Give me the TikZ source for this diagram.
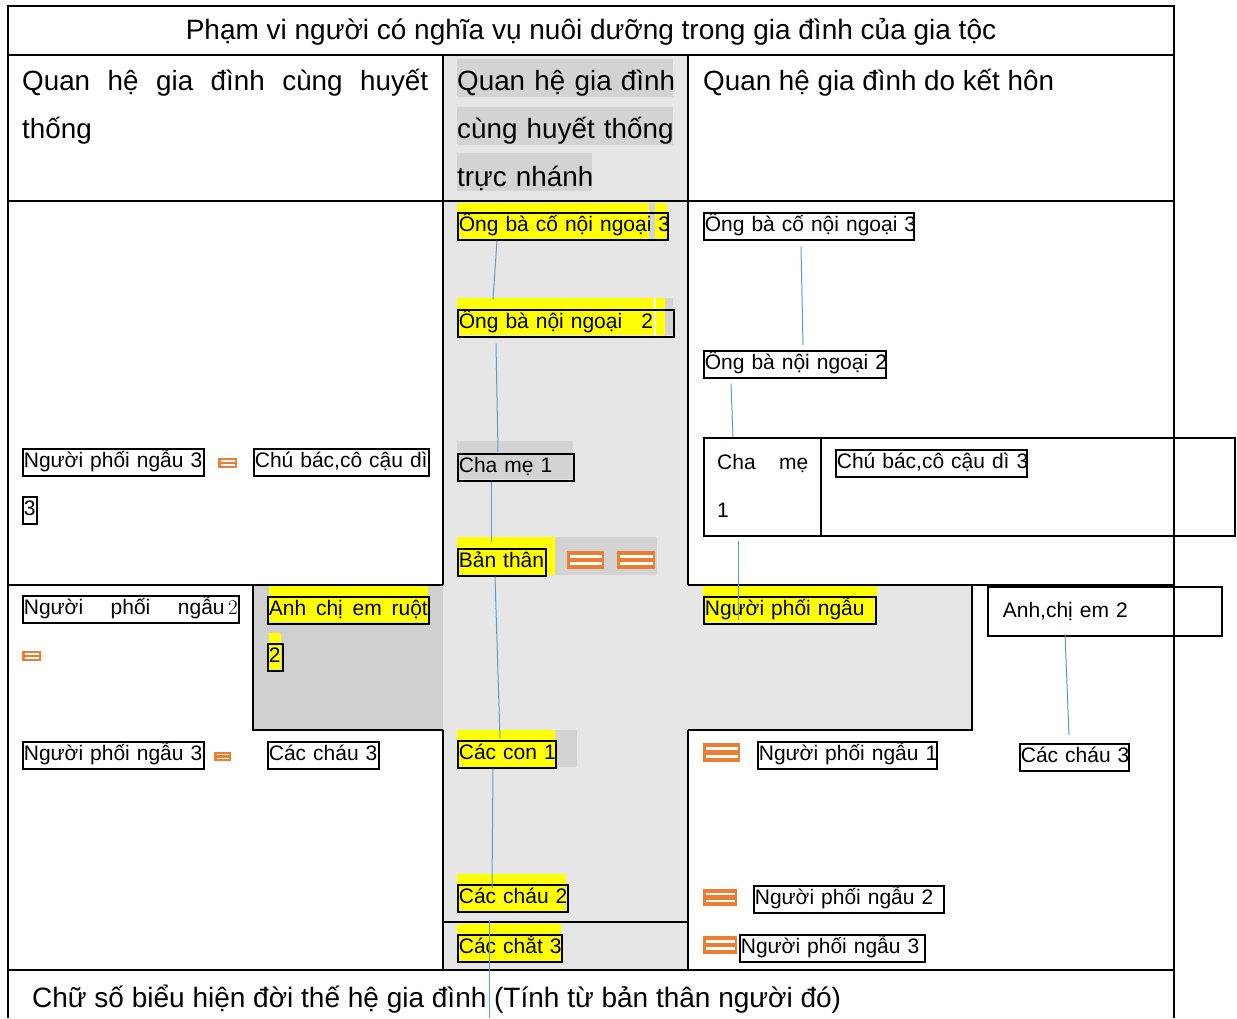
\documentclass[tikz,border=0pt]{standalone}
\usepackage{fontspec}
\setmainfont{Liberation Sans}
\newfontfamily\lmfont{Latin Modern Roman}
\usetikzlibrary{calc}
\definecolor{colgray}{HTML}{E6E6E6}
\definecolor{crossgray}{HTML}{D1D0D1}
\definecolor{hlgray}{HTML}{D3D3D3}
\definecolor{hlyel}{HTML}{FFFF00}
\definecolor{connblue}{HTML}{5B9BD5}
\definecolor{eqorange}{HTML}{ED7D31}
\newcommand\lblfont{\fontsize{21}{25}\selectfont}
\newcommand\hdrfont{\fontsize{27.8}{48}\selectfont}
\newcommand\ttlfont{\fontsize{28}{32}\selectfont}
\newcommand\eqsym[5]{%
  \fill[eqorange] (#1,#2) rectangle ++(#3,#4);
  \draw[white, line width=#5pt] ({#1+2.5},{#2+#4*0.3}) -- ++({#3-5},0);
  \draw[white, line width=#5pt] ({#1+2.5},{#2+#4*0.7}) -- ++({#3-5},0);
}
\tikzset{
  frame/.style={line width=2.4pt, draw=black},
  tb/.style={draw=black, line width=1.7pt, anchor=north west, inner xsep=1pt,
    inner ysep=0pt, minimum height=27pt, text width=#1, align=left,
    font=\lblfont, text height=15.5pt, text depth=4.5pt,
    execute at begin node={\hbox to\linewidth\bgroup},
    execute at end node={\hfil\egroup}},
  conn/.style={draw=connblue, line width=1pt},
  hdr/.style={font=\hdrfont, anchor=base west, inner sep=0pt, align=left},
}
\begin{document}
\begin{tikzpicture}[x=1pt, y=-1pt]
\useasboundingbox (0,0) rectangle (1237,1018);
\fill[white] (0,0) rectangle (1237,1018);
% shaded regions
\fill[colgray] (443,55) rectangle (688,970);
\fill[colgray] (443,585) rectangle (972,730);
\fill[crossgray] (253,585) rectangle (443,730);
% header highlights
\fill[hlgray] (457,59) rectangle (673,97);
\fill[hlgray] (457,107) rectangle (673,145);
\fill[hlgray] (457,153) rectangle (592,191);
% text highlights
\fill[hlyel] (457,203) rectangle (667,239);
\fill[hlgray] (649,203) rectangle (655,239);
\fill[hlyel] (457,298) rectangle (665,335);
\fill[white] (654,298) rectangle (656,335);
\fill[hlgray] (665,298) rectangle (673,335);
\fill[hlgray] (457,441) rectangle (573,479);
\fill[hlyel] (457,537) rectangle (555,575);
\fill[hlgray] (555,537) rectangle (657,575);
\fill[hlyel] (457,730) rectangle (555,767);
\fill[hlgray] (555,730) rectangle (577,767);
\fill[hlyel] (457,874) rectangle (566,911);
\fill[hlyel] (457,924) rectangle (561,961);
\fill[hlyel] (703,585) rectangle (877,622);
\fill[hlyel] (269,585) rectangle (428,622);
\fill[hlyel] (269,633) rectangle (281,670);
% right boxes
\node[draw, line width=1.7pt, anchor=north west, minimum width=531pt, minimum height=98pt, inner sep=0pt] (rbox) at (703,437) {};
\draw[line width=1.7pt] ($(rbox.north west)+(118,0)$) -- ($(rbox.south west)+(118,0)$);
\node[draw, line width=1.7pt, anchor=north west, minimum width=234pt, minimum height=49pt, inner xsep=15pt, text width=204pt, align=left, font=\lblfont] (r6) at (987,586) {Anh,chị em 2};
% table lines
\draw[frame] (8,1018) -- (8,6) -- (1174,6) -- (1174,1018);
\draw[frame] (8,55) -- (1174,55);
\draw[frame] (8,201) -- (1174,201);
\draw[frame] (443,55) -- (443,585);
\draw[frame] (688,55) -- (688,585);
\draw[frame] (8,585) -- (443,585);
\draw[frame] (688,585) -- (1174,585);
\draw[frame] (253,585) -- (253,730) -- (443,730);
\draw[frame] (972,585) -- (972,730) -- (688,730);
\draw[frame] (443,730) -- (443,970);
\draw[frame] (688,730) -- (688,970);
\draw[frame] (443,922) -- (688,922);
\draw[frame] (8,970) -- (1174,970);
% headers
\node[font=\ttlfont, inner sep=0pt] (title) at (591,32) {Phạm vi người có nghĩa vụ nuôi dưỡng trong gia đình của gia tộc};
\node[hdr, text width=406pt] (hL) at (22,90) {Quan\hfill hệ\hfill gia\hfill đình\hfill cùng\hfill huyết\\thống};
\node[hdr, text width=235pt] (hC) at (457,90) {Quan hệ gia đình\\cùng huyết thống\\trực nhánh};
\node[hdr] (hR) at (703,90) {Quan hệ gia đình do kết hôn};
\node[font=\ttlfont, anchor=base west, inner sep=0pt] (note) at (32,1007) {Chữ số biểu hiện đời thế hệ gia đình (Tính từ bản thân người đó)};
% center column
\node[tb=208pt] (c1) at (457,212) {Ông bà cố nội ngoại 3};
\node[tb=214pt] (c2) at (457,309) {Ông bà nội ngoại\hspace{19pt}2};
\node[tb=114pt] (c3) at (457,453) {Cha mẹ 1};
\node[tb=86pt] (c4) at (457,548) {Bản thân};
\node[tb=96pt] (c5) at (457,740) {Các con 1};
\node[tb=108pt] (c6) at (457,884) {Các cháu 2};
\node[tb=102pt] (c7) at (457,934) {Các chắt 3};
% right column
\node[tb=208pt] (r1) at (703,212) {Ông bà cố nội ngoại 3};
\node[tb=180pt] (r2) at (703,350) {Ông bà nội ngoại 2};
\node[font={\fontsize{21}{48}\selectfont}, anchor=base west, inner sep=0pt, text width=91pt, align=left] (r3) at (717,469) {Cha\hfill mẹ\\1};
\node[tb=189pt] (r4) at (835,449) {Chú bác,cô cậu dì 3};
\node[tb=170pt] (r5) at (703,596) {Người phối ngẫu};
\node[tb=107pt] (r7) at (1019,743) {Các cháu 3};
\node[tb=177pt] (r8) at (757,741) {Người phối ngẫu 1};
\node[tb=188pt] (r9) at (753,885) {Người phối ngẫu 2};
\node[tb=183pt] (r10) at (739,934) {Người phối ngẫu 3};
% left column
\node[tb=179pt] (l1) at (22,448) {Người phối ngẫu 3};
\node[tb=173pt] (l2) at (253,448) {Chú bác,cô cậu dì};
\node[tb=12pt] (l3) at (22,496) {3};
\node[tb=214pt] (l4) at (22,595) {Người\hfill phối\hfill ngẫu\,{\lmfont 2}};
\node[tb=159pt] (l5) at (267,596) {Anh\hfill chị\hfill em\hfill ruột};
\node[tb=13pt] (l6) at (267,643) {2};
\node[tb=179pt] (l7) at (22,741) {Người phối ngẫu 3};
\node[tb=109pt] (l8) at (267,741) {Các cháu 3};
% spouse symbols
\eqsym{567}{551}{37}{18}{2.6}
\eqsym{617}{551}{38}{18}{2.6}
\eqsym{703}{743}{37}{19}{2.8}
\eqsym{703}{889}{34}{17}{2.5}
\eqsym{703}{936}{34}{18}{2.6}
\eqsym{218}{458}{19}{10}{1.4}
\eqsym{22}{651}{19}{10}{1.4}
\eqsym{214}{752}{17}{9}{1.3}
% connectors
\coordinate (cend) at (489,1018);
\draw[conn] ($(c1.south west)+(40,0)$) -- ($(c2.north west)+(36,-10)$);
\draw[conn] ($(c2.south west)+(39,6)$) -- ($(c3.north west)+(41,-1)$);
\draw[conn] ($(c3.south west)+(34,0)$) -- ($(c4.north west)+(34,-6)$);
\draw[conn] ($(c4.south west)+(38,0)$) -- ($(c5.north west)+(43,-2)$);
\draw[conn] ($(c5.south west)+(36,0)$) -- ($(c6.north west)+(35,4)$);
\draw[conn] ($(c6.south west)+(32,7)$) -- (cend);
\draw[conn] ($(r1.south west)+(98,6)$) -- ($(r2.north west)+(100,-5)$);
\draw[conn] ($(r2.south west)+(28,5)$) -- ($(rbox.north west)+(30,0)$);
\draw[conn] ($(rbox.south west)+(35,4)$) -- ($(r5.north west)+(35,24)$);
\draw[conn] ($(r6.south west)+(78,-3)$) -- ($(r7.north west)+(50,-8)$);
\end{tikzpicture}
\end{document}
